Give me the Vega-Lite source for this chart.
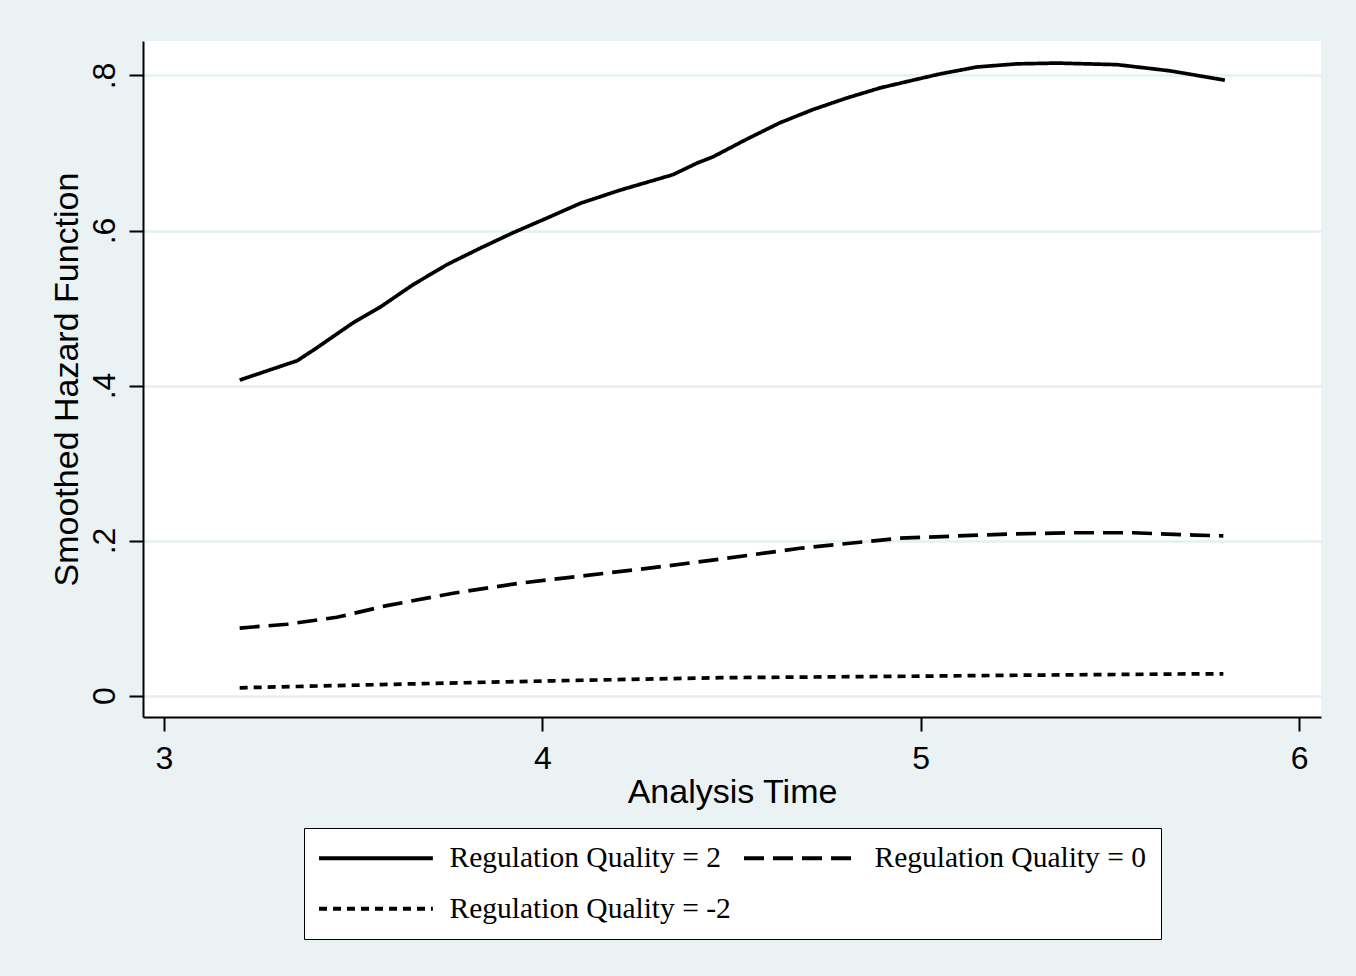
{
  "$schema": "https://vega.github.io/schema/vega-lite/v6.json",
  "width": 1178,
  "height": 676,
  "autosize": {"type": "none"},
  "padding": {"left": 143, "top": 41, "right": 35, "bottom": 259},
  "background": "#EAF2F3",
  "config": {
    "view": {"fill": "white", "stroke": null},
    "axis": {
      "domainColor": "black", "domainWidth": 2,
      "tickColor": "black", "tickWidth": 2, "tickSize": 14,
      "gridColor": "#E6EFF1", "gridWidth": 2.5,
      "labelFont": "Liberation Sans", "labelFontSize": 32, "labelColor": "black",
      "titleFont": "Liberation Sans", "titleFontSize": 34, "titleFontWeight": "normal", "titleColor": "black"
    },
    "legend": {
      "symbolStrokeColor": "black"
    }
  },
  "data": {
    "values": [
      {"t": 3.2, "h": 0.407, "g": "Regulation Quality = 2"},
      {"t": 3.352, "h": 0.432, "g": "Regulation Quality = 2"},
      {"t": 3.399, "h": 0.447, "g": "Regulation Quality = 2"},
      {"t": 3.5, "h": 0.481, "g": "Regulation Quality = 2"},
      {"t": 3.571, "h": 0.501, "g": "Regulation Quality = 2"},
      {"t": 3.658, "h": 0.53, "g": "Regulation Quality = 2"},
      {"t": 3.748, "h": 0.556, "g": "Regulation Quality = 2"},
      {"t": 3.835, "h": 0.577, "g": "Regulation Quality = 2"},
      {"t": 3.922, "h": 0.597, "g": "Regulation Quality = 2"},
      {"t": 4.012, "h": 0.616, "g": "Regulation Quality = 2"},
      {"t": 4.1, "h": 0.635, "g": "Regulation Quality = 2"},
      {"t": 4.205, "h": 0.652, "g": "Regulation Quality = 2"},
      {"t": 4.345, "h": 0.672, "g": "Regulation Quality = 2"},
      {"t": 4.409, "h": 0.687, "g": "Regulation Quality = 2"},
      {"t": 4.451, "h": 0.695, "g": "Regulation Quality = 2"},
      {"t": 4.541, "h": 0.718, "g": "Regulation Quality = 2"},
      {"t": 4.628, "h": 0.739, "g": "Regulation Quality = 2"},
      {"t": 4.715, "h": 0.756, "g": "Regulation Quality = 2"},
      {"t": 4.805, "h": 0.771, "g": "Regulation Quality = 2"},
      {"t": 4.893, "h": 0.784, "g": "Regulation Quality = 2"},
      {"t": 4.98, "h": 0.794, "g": "Regulation Quality = 2"},
      {"t": 5.051, "h": 0.802, "g": "Regulation Quality = 2"},
      {"t": 5.149, "h": 0.811, "g": "Regulation Quality = 2"},
      {"t": 5.255, "h": 0.815, "g": "Regulation Quality = 2"},
      {"t": 5.36, "h": 0.816, "g": "Regulation Quality = 2"},
      {"t": 5.519, "h": 0.814, "g": "Regulation Quality = 2"},
      {"t": 5.659, "h": 0.806, "g": "Regulation Quality = 2"},
      {"t": 5.804, "h": 0.794, "g": "Regulation Quality = 2"},

      {"t": 3.2, "h": 0.087, "g": "Regulation Quality = 0"},
      {"t": 3.325, "h": 0.092, "g": "Regulation Quality = 0"},
      {"t": 3.457, "h": 0.101, "g": "Regulation Quality = 0"},
      {"t": 3.589, "h": 0.116, "g": "Regulation Quality = 0"},
      {"t": 3.764, "h": 0.132, "g": "Regulation Quality = 0"},
      {"t": 3.941, "h": 0.145, "g": "Regulation Quality = 0"},
      {"t": 4.118, "h": 0.155, "g": "Regulation Quality = 0"},
      {"t": 4.293, "h": 0.165, "g": "Regulation Quality = 0"},
      {"t": 4.47, "h": 0.176, "g": "Regulation Quality = 0"},
      {"t": 4.681, "h": 0.19, "g": "Regulation Quality = 0"},
      {"t": 4.945, "h": 0.203, "g": "Regulation Quality = 0"},
      {"t": 5.21, "h": 0.208, "g": "Regulation Quality = 0"},
      {"t": 5.387, "h": 0.21, "g": "Regulation Quality = 0"},
      {"t": 5.561, "h": 0.21, "g": "Regulation Quality = 0"},
      {"t": 5.725, "h": 0.207, "g": "Regulation Quality = 0"},
      {"t": 5.8, "h": 0.206, "g": "Regulation Quality = 0"},

      {"t": 3.2, "h": 0.010, "g": "Regulation Quality = -2"},
      {"t": 3.65, "h": 0.015, "g": "Regulation Quality = -2"},
      {"t": 4.03, "h": 0.019, "g": "Regulation Quality = -2"},
      {"t": 4.47, "h": 0.023, "g": "Regulation Quality = -2"},
      {"t": 5.0, "h": 0.025, "g": "Regulation Quality = -2"},
      {"t": 5.21, "h": 0.026, "g": "Regulation Quality = -2"},
      {"t": 5.74, "h": 0.028, "g": "Regulation Quality = -2"},
      {"t": 5.8, "h": 0.028, "g": "Regulation Quality = -2"}
    ]
  },
  "mark": {"type": "line", "color": "black", "strokeWidth": 3.7, "clip": true},
  "encoding": {
    "x": {
      "field": "t", "type": "quantitative",
      "scale": {"domain": [2.9445, 6.0581], "nice": false, "zero": false},
      "axis": {"values": [3, 4, 5, 6], "grid": false, "title": "Analysis Time", "labelPadding": 12, "titlePadding": 1, "format": "d"}
    },
    "y": {
      "field": "h", "type": "quantitative",
      "scale": {"domain": [-0.0277, 0.8445], "nice": false, "zero": false},
      "axis": {
        "values": [0, 0.2, 0.4, 0.6, 0.8], "grid": true,
        "title": "Smoothed Hazard Function",
        "labelAngle": 270, "labelAlign": "center", "labelBaseline": "bottom",
        "labelPadding": 8, "titlePadding": 4,
        "labelExpr": "datum.value == 0 ? '0' : replace(format(datum.value, '.1f'), '0.', '.')"
      }
    },
    "strokeDash": {
      "field": "g", "type": "nominal",
      "scale": {
        "domain": ["Regulation Quality = 2", "Regulation Quality = 0", "Regulation Quality = -2"],
        "range": [[1, 0], [20, 9], [8, 6]]
      },
      "legend": {
        "title": null,
        "orient": "none", "legendX": 161, "legendY": 787,
        "direction": "horizontal",
        "columns": 2,
        "symbolType": "M-2.5,0H16.8", "symbolSize": 139.24, "symbolStrokeWidth": 4,
        "labelFont": "Liberation Serif", "labelFontSize": 29.5, "labelColor": "black", "labelLimit": 500,
        "labelOffset": 101, "columnPadding": 5, "rowPadding": 20,
        "padding": 15,
        "strokeColor": "black", "fillColor": "white"
      }
    }
  }
}
